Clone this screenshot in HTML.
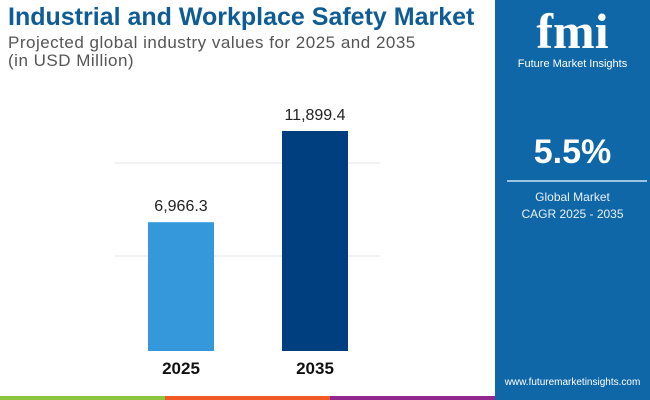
<!DOCTYPE html>
<html><head><meta charset="utf-8"><style>
body{margin:0;width:650px;height:400px;overflow:hidden;background:#fff;font-family:"Liberation Sans",sans-serif;position:relative}
.abs{position:absolute}
</style></head><body>
<div class="abs" style="left:8px;top:3px;font-size:25px;font-weight:bold;color:#0f5c95;white-space:nowrap">Industrial and Workplace Safety Market</div>
<div class="abs" style="left:8px;top:34px;font-size:17px;letter-spacing:0.5px;color:#555;line-height:18px;white-space:nowrap">Projected global industry values for 2025 and 2035<br>(in USD Million)</div>
<svg class="abs" style="left:0;top:0" width="495" height="396">
<g id="grid"></g><g id="bars"></g>
</svg>
<div class="abs" style="left:495px;top:0;width:155px;height:400px;background:#1067a8">
<div class="abs" style="left:0;top:2px;width:155px;text-align:center;font-size:50px;font-weight:bold;color:#fff;font-family:'Liberation Serif',serif">fmi</div>
<div class="abs" style="left:0;top:58px;width:155px;text-align:center;font-size:11px;color:#fff">Future Market Insights</div>
<div class="abs" style="left:0;top:133px;width:155px;text-align:center;font-size:34px;font-weight:bold;color:#fff">5.5%</div>
<div class="abs" style="left:12px;top:180px;width:140px;height:2px;background:#9cc3e2"></div>
<div class="abs" style="left:0;top:189px;width:155px;text-align:center;font-size:12px;color:#e8f0f8;line-height:17px">Global Market<br>CAGR 2025 - 2035</div>
<div class="abs" style="left:0;top:377px;width:155px;text-align:center;font-size:10px;color:#fff">www.futuremarketinsights.com</div>
</div>
<div class="abs" style="left:0;top:396px;width:165px;height:4px;background:#8cc63f"></div>
<div class="abs" style="left:165px;top:396px;width:165px;height:4px;background:#f15a24"></div>
<div class="abs" style="left:330px;top:396px;width:165px;height:4px;background:#92278f"></div>
<script>
const categories=["2025","2035"];
const values=[6966.3,11899.4];
const labels=["6,966.3","11,899.4"];
const colors=["#3498db","#003f7f"];
const base=351, top0=131, vmax=11899.4;
const y=v=>base-(v/vmax)*(base-top0);
const x=i=>148+i*134;
const ns="http://www.w3.org/2000/svg";
const g=document.getElementById('grid'), b=document.getElementById('bars');
[163,256].forEach(gy=>{const l=document.createElementNS(ns,'line');
l.setAttribute('x1',115);l.setAttribute('x2',380);l.setAttribute('y1',gy);l.setAttribute('y2',gy);l.setAttribute('stroke','#e6e6e6');

g.appendChild(l);});
values.forEach((v,i)=>{
const r=document.createElementNS(ns,'rect');
r.setAttribute('x',x(i));r.setAttribute('width',66);r.setAttribute('y',y(v));r.setAttribute('height',base-y(v));r.setAttribute('fill',colors[i]);

b.appendChild(r);
const t=document.createElementNS(ns,'text');
t.setAttribute('x',x(i)+33);t.setAttribute('y',y(v)-11);t.setAttribute('text-anchor','middle');t.setAttribute('font-size','16');t.setAttribute('fill','#222');t.textContent=labels[i];

b.appendChild(t);
const c=document.createElementNS(ns,'text');
c.setAttribute('x',x(i)+33);c.setAttribute('y',374);c.setAttribute('text-anchor','middle');c.setAttribute('font-size','17');c.setAttribute('font-weight','bold');c.setAttribute('fill','#111');c.textContent=categories[i];

b.appendChild(c);
});
</script>
</body></html>
